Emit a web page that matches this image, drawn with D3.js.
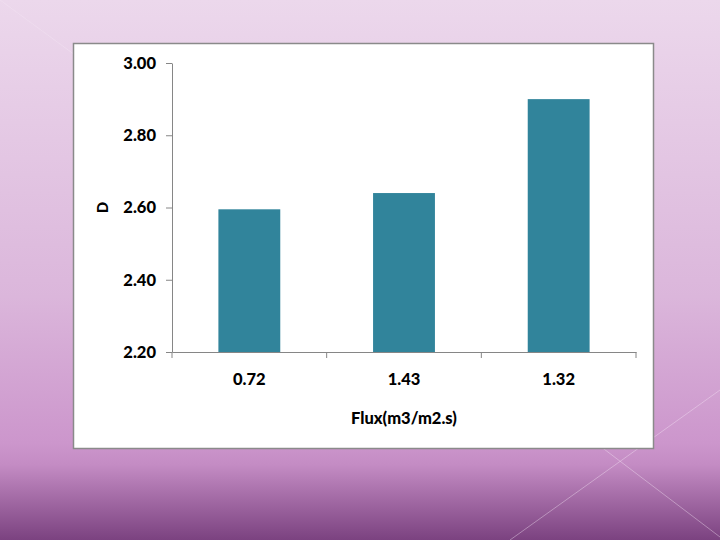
<!DOCTYPE html>
<html>
<head>
<meta charset="utf-8">
<script src="https://cdn.jsdelivr.net/npm/d3@7"></script>
<style>
  body { margin: 0; }
  svg { display: block; }
  .axis text { font-family: Lato, "Open Sans", sans-serif; font-weight: 900; font-size: 16.5px; fill: #000; }
  .axis path, .axis line { stroke: #868686; }
</style>
</head>
<body>
<svg width="720" height="540"></svg>
<script>
// values
const categories = ["0.72", "1.43", "1.32"];
const values = [2.595, 2.64, 2.90];
const yTicks = [2.20, 2.40, 2.60, 2.80, 3.00];
const xTitle = "Flux(m3/m2.s)";
const yTitle = "D";

const svg = d3.select("svg");
const W = +svg.attr("width"), H = +svg.attr("height");

// slide background
const defs = svg.append("defs");
const grad = defs.append("linearGradient")
    .attr("id", "bg").attr("x1", 0).attr("y1", 0).attr("x2", 0).attr("y2", 1);
[[0, "#ecd8ec"], [0.55, "#dbb6db"], [0.82, "#cc96cc"], [0.86, "#c48cc4"], [1, "#7b4280"]]
    .forEach(s => grad.append("stop").attr("offset", s[0]).attr("stop-color", s[1]));
svg.append("rect").attr("width", W).attr("height", H).attr("fill", "url(#bg)");

// faint decorative lines
const deco = [[0, 0, 90, 66], [510, 540, 720, 390], [600, 446, 720, 537]];
svg.selectAll("line.deco").data(deco).enter().append("line")
    .attr("class", "deco")
    .attr("x1", d => d[0]).attr("y1", d => d[1])
    .attr("x2", d => d[2]).attr("y2", d => d[3])
    .attr("stroke", "#f4e6f4").attr("stroke-opacity", 0.4).attr("stroke-width", 1);

// white chart box
svg.append("rect")
    .attr("x", 73.5).attr("y", 43.5).attr("width", 580).attr("height", 405)
    .attr("fill", "#fff").attr("stroke", "#8a8a8a").attr("stroke-width", 1.5);

// plot area
let margin = { top: 63, right: 84, bottom: 188, left: 172 };
let width = W - margin.left - margin.right;
let height = H - margin.top - margin.bottom;

const g = svg.append("g").attr("transform", `translate(${margin.left},${margin.top})`);

const x = d3.scaleBand().domain(categories).range([0, width])
    .paddingInner(0.6).paddingOuter(0.3);
const y = d3.scaleLinear().domain([2.2, 3.0]).range([height, 0]);

// bars
g.selectAll("rect.bar").data(values).enter().append("rect")
    .attr("class", "bar")
    .attr("x", (d, i) => x(categories[i]))
    .attr("width", x.bandwidth())
    .attr("y", d => y(d))
    .attr("height", d => height - y(d))
    .attr("fill", "#31849b");

// y axis
g.append("g").attr("class", "axis")
    .call(d3.axisLeft(y).tickValues(yTicks).tickFormat(d3.format(".2f"))
        .tickSize(6).tickSizeOuter(0).tickPadding(10));

// x axis, ticks between the categories
const xAxis = g.append("g").attr("class", "axis")
    .attr("transform", `translate(0,${height})`)
    .call(d3.axisBottom(x).tickSize(0).tickPadding(21));
const bounds = categories.map(c => x(c) - x.step() * x.paddingOuter()).concat([width]);
xAxis.selectAll("line.sep").data(bounds).enter().append("line")
    .attr("class", "sep")
    .attr("x1", d => d).attr("x2", d => d)
    .attr("y1", 0).attr("y2", 6);

// titles
g.append("text")
    .attr("x", width / 2).attr("y", height + 72)
    .attr("text-anchor", "middle")
    .style("font-family", "Lato, 'Open Sans', sans-serif").style("font-weight", 900).style("font-size", "16.5px")
    .text(xTitle);

g.append("text")
    .attr("transform", `translate(${-69},${y(2.6)}) rotate(-90)`)
    .attr("text-anchor", "middle").attr("dy", "0.35em")
    .style("font-family", "Lato, 'Open Sans', sans-serif").style("font-weight", 900).style("font-size", "15px")
    .text(yTitle);
</script>
</body>
</html>
